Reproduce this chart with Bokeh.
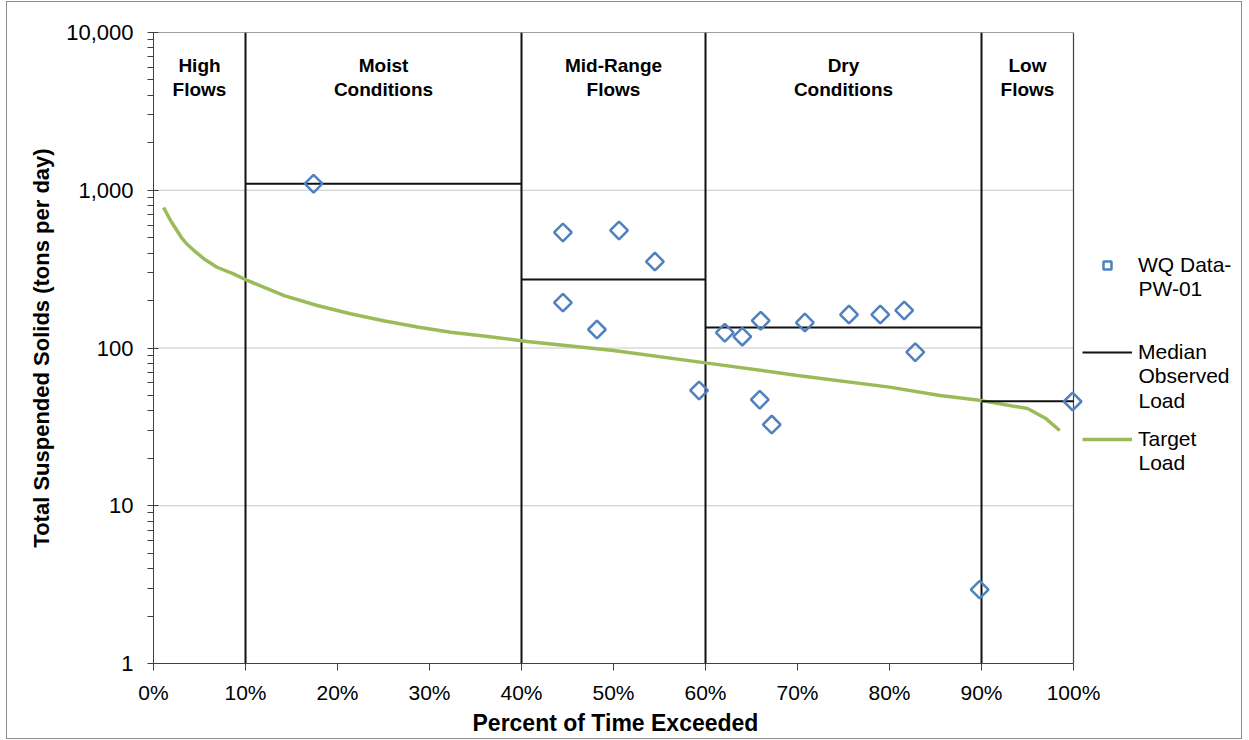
from bokeh.plotting import figure
from bokeh.models import (FixedTicker, NumeralTickFormatter, PrintfTickFormatter,
                          Legend, LegendItem, Range1d, Title, Label)
from bokeh.core.properties import value
from bokeh.embed import file_html
from bokeh.resources import INLINE

# ---- data ----
zone_edges = [0, 10, 40, 60, 90, 100]
zone_names = ["High\nFlows", "Moist\nConditions", "Mid-Range\nFlows", "Dry\nConditions", "Low\nFlows"]

wq_pct = [17.4, 44.5, 50.6, 54.5, 44.5, 48.2, 59.3, 62.1, 64.0, 66.0, 70.8,
          75.6, 79.0, 81.6, 82.8, 65.9, 67.2, 89.8, 99.9]
wq_load = [1100, 540, 556, 353, 194, 131, 53.8, 125, 118, 149, 145,
           163, 163, 173, 94, 47, 32.7, 2.94, 45.8]

median_start = [10, 40, 60, 90]
median_end = [40, 60, 90, 100]
median_load = [1100, 272, 135, 46]

target_pct = [1.1, 1.85, 3.0, 3.6, 4.4, 5.5, 6.9, 8.7, 10.2, 14.2, 17.8, 21.4,
              25, 28.7, 32.3, 35.9, 40.6, 50, 60, 70, 80, 85.5, 90, 95, 97, 98.5]
target_load = [778, 643, 505, 458, 415, 367, 325, 295, 268, 215, 186, 165,
               149, 136, 126, 119, 110, 96.4, 80.5, 67, 56.5, 50, 46.4, 41.3, 35.7, 30]

y_major = [1, 10, 100, 1000, 10000]
x_major = [0, 10, 20, 30, 40, 50, 60, 70, 80, 90, 100]

legend_labels = [["WQ Data-", "PW-01"], ["Median", "Observed", "Load"], ["Target", "Load"]]

FONT = "Liberation Sans"
AXIS_COL = "#404040"

# layout in pixels
FIG_W, FIG_H = 1234, 736
LEFT, RIGHT, TOP, BOTTOM = 146, 2, 30, 75
PLOT_W = 920                      # pixel width of the 0-100 % span
PLOT_H = 631                      # pixel height of the frame
FRAME_W = FIG_W - LEFT - RIGHT
x_end = zone_edges[-1] * FRAME_W / PLOT_W   # extra room on the right for the legend

p = figure(width=FIG_W, height=FIG_H, x_range=Range1d(0, x_end), y_range=(1, 10000),
           y_axis_type="log", output_backend="svg", toolbar_location=None,
           min_border_left=LEFT, min_border_right=RIGHT, min_border_top=TOP,
           min_border_bottom=BOTTOM, margin=(2, 0, 0, 7),
           background_fill_color="white", border_fill_color="white")
p.styles = {"outline": "1.5px solid #8c8c8c"}

p.outline_line_color = None
p.xgrid.grid_line_color = None
p.ygrid.grid_line_color = None

# axes
minor = [m * d for d in [1, 10, 100, 1000] for m in range(2, 10)]
p.yaxis.ticker = FixedTicker(ticks=y_major, minor_ticks=minor)
p.yaxis.formatter = NumeralTickFormatter(format="0,0")
p.xaxis.ticker = FixedTicker(ticks=x_major)
p.xaxis.formatter = PrintfTickFormatter(format="%d%%")
p.xaxis.bounds = (zone_edges[0], zone_edges[-1])

for ax in (p.xaxis, p.yaxis):
    ax.axis_line_color = AXIS_COL
    ax.major_tick_line_color = AXIS_COL
    ax.minor_tick_line_color = AXIS_COL
    ax.major_label_text_font = FONT
    ax.major_label_text_color = "black"
    ax.axis_label_text_font = FONT
    ax.axis_label_text_font_style = "bold"
    ax.axis_label_text_color = "black"

p.yaxis.major_tick_out = 6
p.yaxis.major_tick_in = 5
p.yaxis.minor_tick_out = 6
p.yaxis.minor_tick_in = 0
p.yaxis.major_label_text_font_size = "22px"
p.yaxis.major_label_standoff = 14
p.yaxis.axis_label = "Total Suspended Solids (tons per day)"
p.yaxis.axis_label_text_font_size = "22px"
p.yaxis.axis_label_standoff = 9

p.xaxis.major_tick_out = 7
p.xaxis.major_tick_in = 0
p.xaxis.minor_tick_line_color = None
p.xaxis.major_label_text_font_size = "21px"
p.xaxis.major_label_standoff = 10

# x-axis title, centred under the 0-100 % span (not the whole frame)
xtitle = Title(text="Percent of Time Exceeded", align="left", offset=319,
               text_font=FONT, text_font_style="bold", text_font_size="23px",
               text_color="black", standoff=3)
p.add_layout(xtitle, "below")

# horizontal grid lines (only across the 0-100 % plot area)
grid_y = y_major[1:-1]
p.segment(x0=[zone_edges[0]] * len(grid_y), x1=[zone_edges[-1]] * len(grid_y),
          y0=grid_y, y1=grid_y, line_color="#c8c8c8", line_width=1)

# plot-area border: top and right
p.segment(x0=[zone_edges[0], zone_edges[-1]], x1=[zone_edges[-1], zone_edges[-1]],
          y0=[p.y_range.end, p.y_range.start], y1=[p.y_range.end, p.y_range.end],
          line_color=AXIS_COL, line_width=1.2)

# zone boundaries
inner = zone_edges[1:-1]
p.segment(x0=inner, x1=inner, y0=[p.y_range.start] * len(inner),
          y1=[p.y_range.end] * len(inner), line_color="#111111", line_width=2)

# zone labels
centers = [(a + b) / 2 for a, b in zip(zone_edges[:-1], zone_edges[1:])]
p.text(x=centers, y=[p.y_range.end] * len(centers), text=zone_names,
       text_align="center", text_baseline="top", y_offset=22,
       text_font=value(FONT), text_font_style="bold", text_font_size="19px",
       text_line_height=1.16, text_color="black")

# target curve
r_target = p.line(target_pct, target_load, line_color="#9bbb59", line_width=3.5)

# median lines
r_med = p.segment(x0=median_start, x1=median_end, y0=median_load, y1=median_load,
                  line_color="#111111", line_width=2)

# WQ data
r_wq = p.scatter(wq_pct, wq_load, marker="square", angle=0.785398, size=12.5,
                 fill_color=None, line_color="#4f81bd", line_width=2.5)

# legend: glyph + first line as a legend entry, further lines as labels below it
first_baselines = [271, 358, 445]    # pixel rows of each entry's first text line
LINE_STEP = 25
FRAME_BOTTOM = 32 + PLOT_H
for lines, rend, b1 in zip(legend_labels, [r_wq, r_med, r_target], first_baselines):
    lg = Legend(items=[LegendItem(label=lines[0], renderers=[rend])],
                location=(PLOT_W + 9, FRAME_BOTTOM - b1 - 6))
    lg.label_text_font = FONT
    lg.label_text_font_size = "21px"
    lg.label_text_color = "black"
    lg.label_text_line_height = 1.2
    lg.glyph_width = 50
    lg.glyph_height = 20
    lg.label_standoff = 6
    lg.padding = 0
    lg.margin = 0
    lg.border_line_color = None
    lg.background_fill_color = None
    lg.background_fill_alpha = 0
    p.add_layout(lg)
    for k, extra in enumerate(lines[1:], start=1):
        p.add_layout(Label(x=zone_edges[-1], y=p.y_range.start, x_offset=65,
                           y_offset=FRAME_BOTTOM - (b1 + k * LINE_STEP) + 8,
                           text=extra, text_font=FONT, text_font_size="21px",
                           text_color="black", text_align="left",
                           text_baseline="alphabetic"))

open("out.html", "w").write(file_html(p, INLINE))
